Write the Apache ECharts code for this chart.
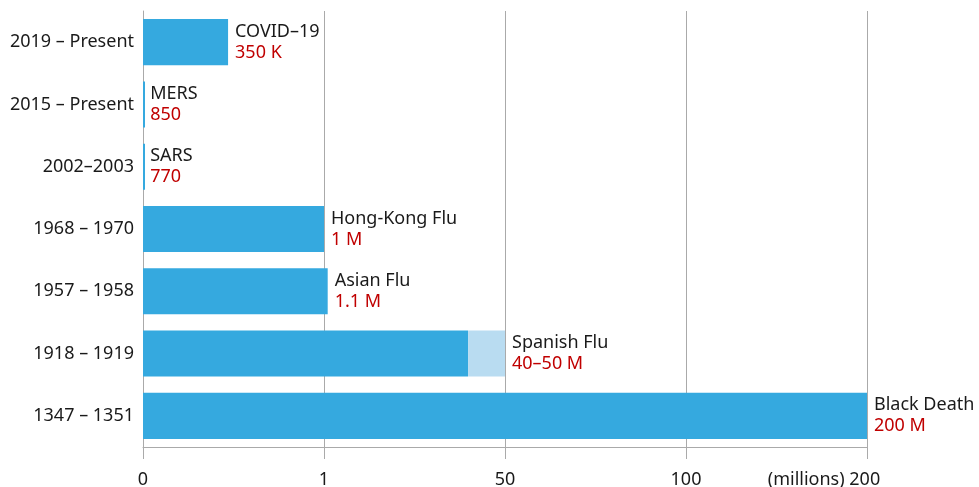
<!DOCTYPE html>
<html>
<head>
<meta charset="utf-8">
<script src="https://cdn.jsdelivr.net/npm/echarts@6/dist/echarts.min.js"></script>
<style>
  html, body { margin: 0; padding: 0; background: #fff; }
  #chart { width: 979px; height: 487px; }
</style>
</head>
<body>
<div id="chart"></div>
<script>
// categories, top to bottom
var periods = ['2019 – Present', '2015 – Present', '2002–2003', '1968 – 1970', '1957 – 1958', '1918 – 1919', '1347 – 1351'];
var names = ['COVID–19', 'MERS', 'SARS', 'Hong-Kong Flu', 'Asian Flu', 'Spanish Flu', 'Black Death'];
var deathLabels = ['350 K', '850', '770', '1 M', '1.1 M', '40–50 M', '200 M'];
// bar lengths in millions, as drawn
var deaths = [0.47, 0.00085, 0.00077, 1, 2, 40, 200];
var deathsRange = [0, 0, 0, 0, 0, 10, 0]; // upper range on top of base
// axis breakpoints (millions)
var ticks = [0, 1, 50, 100, 200];

// piecewise linear scale: each segment between breakpoints gets one unit
function toAxis(v) {
  for (var i = 1; i < ticks.length; i++) {
    if (v <= ticks[i]) return (i - 1) + (v - ticks[i - 1]) / (ticks[i] - ticks[i - 1]);
  }
  return ticks.length - 1;
}

var baseVals = deaths.map(toAxis);
var extraVals = deaths.map(function (d, i) { return toAxis(d + deathsRange[i]) - toAxis(d); });

var myChart = echarts.init(document.getElementById('chart'));
var font = 'Noto Sans';
var fs = 18;

var option = {
  animation: false,
  grid: { left: 143, right: 112, top: 11, bottom: 40, outerBoundsMode: 'none' },
  xAxis: {
    type: 'value',
    min: 0,
    max: 4,
    interval: 1,
    axisLine: { show: true, lineStyle: { color: '#aaa' } },
    axisTick: { show: true, length: 12, lineStyle: { color: '#aaa' } },
    splitLine: { show: true, lineStyle: { color: '#aaa' } },
    axisLabel: {
      margin: 24,
      showMaxLabel: true,
      showMinLabel: true,
      color: '#1a1a1a',
      fontFamily: font,
      fontSize: fs,
      formatter: function (v) {
        var t = ticks[Math.round(v)];
        if (Math.round(v) === 4) return '{m|(millions) }' + t + '{s|}';
        return '' + t;
      },
      rich: {
        m: { color: '#1a1a1a', fontFamily: font, fontSize: fs },
        s: { width: 86 }
      }
    }
  },
  yAxis: {
    type: 'category',
    data: periods,
    inverse: true,
    axisLine: { show: true, lineStyle: { color: '#aaa' } },
    axisTick: { show: false },
    axisLabel: { margin: 9, color: '#1a1a1a', fontFamily: font, fontSize: fs }
  },
  series: [{
    type: 'bar',
    stack: 'd',
    data: baseVals,
    barCategoryGap: '26%',
    barMinHeight: 2,
    itemStyle: { color: '#35a9df' }
  }, {
    type: 'bar',
    stack: 'd',
    data: extraVals,
    itemStyle: { color: '#b9dcf1' },
    label: {
      show: true,
      position: 'right',
      distance: 7,
      formatter: function (p) {
        return '{n|' + names[p.dataIndex] + '}\n{v|' + deathLabels[p.dataIndex] + '}';
      },
      rich: {
        n: { color: '#1a1a1a', fontFamily: font, fontSize: fs, lineHeight: 21 },
        v: { color: '#c00000', fontFamily: font, fontSize: fs, lineHeight: 21 }
      }
    }
  }]
};

myChart.setOption(option);
</script>
</body>
</html>
